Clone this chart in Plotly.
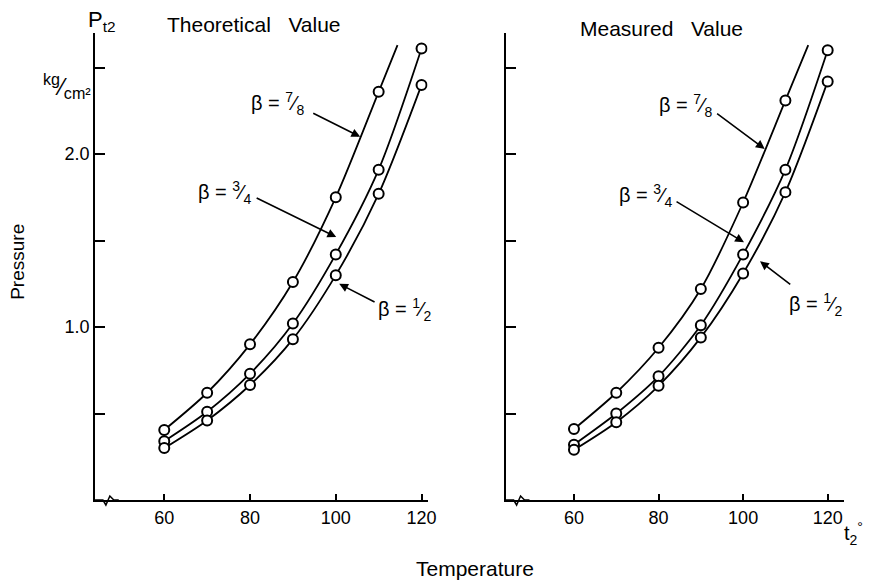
import plotly.graph_objects as go

# ---------------- data ----------------
temps = [60, 70, 80, 90, 100, 110, 120]

theo_78 = [0.405, 0.62, 0.90, 1.26, 1.75, 2.36]          # markers 60..110
theo_78_end = (114.4, 2.63)                                # curve continues, no marker
theo_34 = [0.34, 0.51, 0.73, 1.02, 1.42, 1.91, 2.61]
theo_12 = [0.30, 0.46, 0.665, 0.93, 1.30, 1.77, 2.40]

meas_78 = [0.41, 0.62, 0.88, 1.22, 1.72, 2.31]
meas_78_end = (115.4, 2.63)
meas_34 = [0.32, 0.50, 0.715, 1.01, 1.42, 1.91, 2.60]
meas_12 = [0.29, 0.45, 0.66, 0.94, 1.31, 1.78, 2.42]

y_tickvals = [0.5, 1.0, 1.5, 2.0, 2.5]
y_ticktext_left = ["", "1.0", "", "2.0", ""]
x_tickvals = [60, 80, 100, 120]
x_ticktext = ["60", "80", "100", "120"]

FONT = "Liberation Sans"
W, H = 871, 582

fig = go.Figure()


def add_curve(xs, ys, xa, ya, end=None):
    lx = list(xs)
    ly = list(ys)
    if end is not None:
        lx.append(end[0])
        ly.append(end[1])
    fig.add_trace(go.Scatter(x=lx, y=ly, mode="lines", xaxis=xa, yaxis=ya,
                             line=dict(color="black", width=1.8, shape="spline", smoothing=0.8),
                             showlegend=False, hoverinfo="skip"))
    fig.add_trace(go.Scatter(x=xs, y=ys, mode="markers", xaxis=xa, yaxis=ya,
                             marker=dict(symbol="circle", size=10, color="white",
                                         line=dict(color="black", width=2)),
                             showlegend=False))


add_curve(temps[:6], theo_78, "x", "y", theo_78_end)
add_curve(temps, theo_34, "x", "y")
add_curve(temps, theo_12, "x", "y")
add_curve(temps[:6], meas_78, "x2", "y2", meas_78_end)
add_curve(temps, meas_34, "x2", "y2")
add_curve(temps, meas_12, "x2", "y2")

ydom = [1 - 500 / H, 1 - 33 / H]
axis_common = dict(showgrid=False, zeroline=False, showline=True, linecolor="black",
                   linewidth=2, ticks="inside", tickcolor="black", tickwidth=2,
                   tickfont=dict(family=FONT, size=18, color="black"))

fig.update_layout(
    width=W, height=H,
    margin=dict(l=0, r=0, t=0, b=0),
    paper_bgcolor="white", plot_bgcolor="white",
    xaxis=dict(domain=[96 / W, 432 / W], range=[43.85, 121.4], anchor="y",
               tickvals=x_tickvals, ticktext=x_ticktext, ticklen=6, **axis_common),
    yaxis=dict(domain=ydom, range=[0, 2.70], anchor="x",
               tickvals=y_tickvals, ticktext=y_ticktext_left, ticklen=10, **axis_common),
    xaxis2=dict(domain=[511 / W, 853 / W], range=[43.86, 123.9], anchor="y2",
                tickvals=x_tickvals, ticktext=x_ticktext, ticklen=6, **axis_common),
    yaxis2=dict(domain=ydom, range=[0, 2.70], anchor="x2",
                tickvals=y_tickvals, ticktext=["", "", "", "", ""], ticklen=10, **axis_common),
)

ann = []


def label(text, x, y, xr, yr, size=20):
    ann.append(dict(text=text, x=x, y=y, xref=xr, yref=yr, showarrow=False,
                    font=dict(family=FONT, size=size, color="black"),
                    xanchor="center", yanchor="middle"))


def arrow(tail, head, xr, yr):
    ann.append(dict(text="", x=head[0], y=head[1], ax=tail[0], ay=tail[1],
                    xref=xr, yref=yr, axref=xr, ayref=yr, showarrow=True,
                    arrowhead=2, arrowsize=1.1, arrowwidth=1.6, arrowcolor="black"))


b78 = "β = <sup>7</sup>⁄<sub>8</sub>"
b34 = "β = <sup>3</sup>⁄<sub>4</sub>"
b12 = "β = <sup>1</sup>⁄<sub>2</sub>"

# left panel
label(b78, 86.3, 2.29, "x", "y")
arrow((94.4, 2.24), (105.7, 2.10), "x", "y")
label(b34, 74.1, 1.78, "x", "y")
arrow((81.2, 1.75), (100.1, 1.52), "x", "y")
label(b12, 116.0, 1.10, "x", "y")
arrow((109.4, 1.14), (100.8, 1.25), "x", "y")

# right panel
label(b78, 86.4, 2.28, "x2", "y2")
arrow((93.5, 2.24), (105.1, 2.03), "x2", "y2")
label(b34, 76.8, 1.76, "x2", "y2")
arrow((83.9, 1.73), (100.2, 1.49), "x2", "y2")
label(b12, 117.2, 1.13, "x2", "y2")
arrow((111.5, 1.24), (104.0, 1.38), "x2", "y2")


# titles and axis texts (paper coords)
def ptext(text, px, py, size=17, angle=0):
    ann.append(dict(text=text, x=px / W, y=1 - py / H, xref="paper", yref="paper",
                    showarrow=False, textangle=angle,
                    font=dict(family=FONT, size=size, color="black"),
                    xanchor="center", yanchor="middle"))


ptext("Theoretical\u00a0\u00a0\u00a0Value", 257, 25, 21)
ptext("Measured\u00a0\u00a0\u00a0Value", 668, 28, 21)
ptext("P<sub>t2</sub>", 103, 21, 22)
ptext("<sup>kg</sup>⁄<sub>cm²</sub>", 68, 86, 23)
ptext("Pressure", 17, 262, 19, -90)
ptext("Temperature", 480, 568, 21)
ptext("t<sub>2</sub><sup>°</sup>", 862, 533, 20)

fig.update_layout(annotations=ann)

# axis break squiggles
for x0 in (96, 511):
    path = (f"M {x0/W},{1-500/H} L {(x0+8)/W},{1-500/H} L {(x0+11)/W},{1-505/H} "
            f"L {(x0+15)/W},{1-496/H} L {(x0+19)/W},{1-500/H} L {(x0+24)/W},{1-500/H}")
    fig.add_shape(type="path", path=path, xref="paper", yref="paper",
                  line=dict(color="black", width=1.5))

fig.write_html("out.html", config={"displayModeBar": False},
               post_script="document.body.style.margin='0';document.body.style.overflow='hidden';")
